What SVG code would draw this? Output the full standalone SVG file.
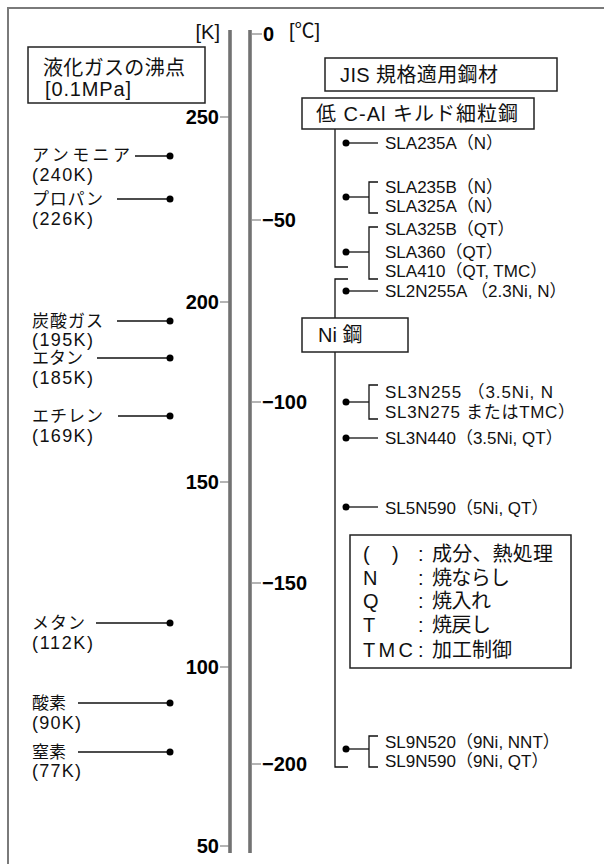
<svg xmlns="http://www.w3.org/2000/svg" width="604" height="864" viewBox="0 0 604 864">
<style>
.frame{stroke:#7a7a7a;stroke-width:2;fill:none}
.bar{stroke:#727272;stroke-width:3.6}
.tick{stroke:#777;stroke-width:1.1}
.ln{stroke:#111;stroke-width:1.3;fill:none}
.box{fill:#fff;stroke:#222;stroke-width:1.5}
.t{font-family:"Liberation Sans","Noto Sans CJK JP",sans-serif;font-size:17px;fill:#111}
.v{font-family:"Liberation Sans","Noto Sans CJK JP",sans-serif;font-size:18px;fill:#111}
.lg{font-family:"Liberation Sans","Noto Sans CJK JP",sans-serif;font-size:20px;fill:#111}
.hd{font-family:"Liberation Sans","Noto Sans CJK JP",sans-serif;font-size:20px;fill:#111}
.ax{font-family:"Liberation Sans",sans-serif;font-size:20px;font-weight:bold;fill:#000}
.dot{fill:#000}
</style>
<rect width="604" height="864" fill="#fff"/>
<path class="frame" d="M8,864 V8 H604"/>

<g id="axis-k">
<line class="bar" x1="230" y1="30" x2="230" y2="853"/>
<text class="hd" x="220" y="39" text-anchor="end">[K]</text>
<line class="tick" x1="220" y1="117" x2="229" y2="117"/>
<text class="ax" x="219" y="124" text-anchor="end">250</text>
<line class="tick" x1="220" y1="302" x2="229" y2="302"/>
<text class="ax" x="219" y="309" text-anchor="end">200</text>
<line class="tick" x1="220" y1="482" x2="229" y2="482"/>
<text class="ax" x="219" y="489" text-anchor="end">150</text>
<line class="tick" x1="220" y1="667" x2="229" y2="667"/>
<text class="ax" x="219" y="674" text-anchor="end">100</text>
<line class="tick" x1="220" y1="846" x2="229" y2="846"/>
<text class="ax" x="219" y="853" text-anchor="end">50</text>
</g>

<g id="axis-c">
<line class="bar" x1="250" y1="30" x2="250" y2="853"/>
<text class="hd" x="289" y="38">[℃]</text>
<line class="tick" x1="252" y1="34" x2="262" y2="34"/>
<text class="ax" x="263" y="41">0</text>
<line class="tick" x1="252" y1="220" x2="261" y2="220"/>
<text class="ax" x="262" y="227">−50</text>
<line class="tick" x1="252" y1="402" x2="261" y2="402"/>
<text class="ax" x="262" y="409">−100</text>
<line class="tick" x1="252" y1="583" x2="261" y2="583"/>
<text class="ax" x="262" y="590">−150</text>
<line class="tick" x1="252" y1="764" x2="261" y2="764"/>
<text class="ax" x="262" y="771">−200</text>
</g>

<g id="title-gas">
<rect class="box" x="28" y="47" width="177" height="56"/>
<text class="hd" x="43" y="75" textLength="142" lengthAdjust="spacing">液化ガスの沸点</text>
<text class="hd" x="45" y="96" textLength="86" lengthAdjust="spacing">[0.1MPa]</text>
</g>

<g id="gas-ammonia">
<text class="t" x="32" y="161" textLength="98" lengthAdjust="spacing">アンモニア</text>
<text class="v" x="32" y="181" textLength="61" lengthAdjust="spacing">(240K)</text>
</g>
<g id="gas-propane">
<text class="t" x="32" y="204.5" textLength="71" lengthAdjust="spacing">プロパン</text>
<text class="v" x="32" y="225" textLength="61" lengthAdjust="spacing">(226K)</text>
</g>
<g id="gas-co2">
<text class="t" x="32" y="326.5" textLength="71" lengthAdjust="spacing">炭酸ガス</text>
<text class="v" x="32" y="346" textLength="61" lengthAdjust="spacing">(195K)</text>
</g>
<g id="gas-ethane">
<text class="t" x="32" y="363.5" textLength="51" lengthAdjust="spacing">エタン</text>
<text class="v" x="32" y="384" textLength="61" lengthAdjust="spacing">(185K)</text>
</g>
<g id="gas-ethylene">
<text class="t" x="32" y="421.5" textLength="71" lengthAdjust="spacing">エチレン</text>
<text class="v" x="32" y="442" textLength="61" lengthAdjust="spacing">(169K)</text>
</g>
<g id="gas-methane">
<text class="t" x="32" y="628.5" textLength="53" lengthAdjust="spacing">メタン</text>
<text class="v" x="32" y="649" textLength="61" lengthAdjust="spacing">(112K)</text>
</g>
<g id="gas-oxygen">
<text class="t" x="32" y="708.5" textLength="34" lengthAdjust="spacing">酸素</text>
<text class="v" x="32" y="729" textLength="49" lengthAdjust="spacing">(90K)</text>
</g>
<g id="gas-nitrogen">
<text class="t" x="32" y="757.5" textLength="34" lengthAdjust="spacing">窒素</text>
<text class="v" x="32" y="777" textLength="49" lengthAdjust="spacing">(77K)</text>
</g>

<g id="connectors">
<line class="ln" x1="135" y1="156" x2="170" y2="156"/><circle class="dot" cx="170" cy="156" r="3.5"/>
<line class="ln" x1="117" y1="199" x2="170" y2="199"/><circle class="dot" cx="170" cy="199" r="3.5"/>
<line class="ln" x1="117" y1="321" x2="170" y2="321"/><circle class="dot" cx="170" cy="321" r="3.5"/>
<line class="ln" x1="97" y1="358" x2="170" y2="358"/><circle class="dot" cx="170" cy="358" r="3.5"/>
<line class="ln" x1="118" y1="416" x2="170" y2="416"/><circle class="dot" cx="170" cy="416" r="3.5"/>
<line class="ln" x1="96" y1="623" x2="170" y2="623"/><circle class="dot" cx="170" cy="623" r="3.5"/>
<line class="ln" x1="78" y1="703" x2="170" y2="703"/><circle class="dot" cx="170" cy="703" r="3.5"/>
<line class="ln" x1="78" y1="752" x2="170" y2="752"/><circle class="dot" cx="170" cy="752" r="3.5"/>

<path class="ln" d="M335,129 V267 H348"/>
<path class="ln" d="M348,279 H335 V767 H348"/>

<line class="ln" x1="346" y1="143" x2="378" y2="143"/><circle class="dot" cx="346" cy="143" r="3.5"/>
<line class="ln" x1="346" y1="197" x2="369" y2="197"/><circle class="dot" cx="346" cy="197" r="3.5"/>
<path class="ln" d="M378,182 H369 V213 H378"/>
<line class="ln" x1="346" y1="252" x2="369" y2="252"/><circle class="dot" cx="346" cy="252" r="3.5"/>
<path class="ln" d="M378,227 H369 V279 H378"/>
<line class="ln" x1="346" y1="291" x2="378" y2="291"/><circle class="dot" cx="346" cy="291" r="3.5"/>
<line class="ln" x1="346" y1="402" x2="369" y2="402"/><circle class="dot" cx="346" cy="402" r="3.5"/>
<path class="ln" d="M378,385 H369 V419 H378"/>
<line class="ln" x1="346" y1="438" x2="378" y2="438"/><circle class="dot" cx="346" cy="438" r="3.5"/>
<line class="ln" x1="346" y1="507" x2="378" y2="507"/><circle class="dot" cx="346" cy="507" r="3.5"/>
<line class="ln" x1="346" y1="749" x2="369" y2="749"/><circle class="dot" cx="346" cy="749" r="3.5"/>
<path class="ln" d="M378,736 H369 V767 H378"/>
</g>

<g id="title-jis">
<rect class="box" x="325" y="58" width="232" height="33"/>
<text class="hd" x="340" y="82" textLength="158" lengthAdjust="spacing">JIS 規格適用鋼材</text>
</g>
<g id="group-lowc">
<rect class="box" x="302" y="98" width="232" height="31"/>
<text class="hd" x="316" y="121" textLength="202" lengthAdjust="spacing">低 C-Al キルド細粒鋼</text>
</g>
<g id="group-ni">
<rect class="box" x="302" y="318" width="106" height="34"/>
<text class="hd" x="318" y="342">Ni 鋼</text>
</g>

<g id="steel-sla235a"><text class="t" x="385" y="149">SLA235A（N）</text></g>
<g id="steel-sla235b"><text class="t" x="385" y="193">SLA235B（N）</text></g>
<g id="steel-sla325a"><text class="t" x="385" y="212">SLA325A（N）</text></g>
<g id="steel-sla325b"><text class="t" x="385" y="235">SLA325B（QT）</text></g>
<g id="steel-sla360"><text class="t" x="385" y="258">SLA360（QT）</text></g>
<g id="steel-sla410"><text class="t" x="385" y="277">SLA410（QT, TMC）</text></g>
<g id="steel-sl2n255a"><text class="t" x="385" y="297">SL2N255A （2.3Ni, N）</text></g>
<g id="steel-sl3n255"><text class="t" x="385" y="398" textLength="168" lengthAdjust="spacing">SL3N255 （3.5Ni, N</text></g>
<g id="steel-sl3n275"><text class="t" x="385" y="418" textLength="190" lengthAdjust="spacing">SL3N275 またはTMC）</text></g>
<g id="steel-sl3n440"><text class="t" x="385" y="444">SL3N440（3.5Ni, QT）</text></g>
<g id="steel-sl5n590"><text class="t" x="385" y="514">SL5N590（5Ni, QT）</text></g>
<g id="steel-sl9n520"><text class="t" x="385" y="748">SL9N520（9Ni, NNT）</text></g>
<g id="steel-sl9n590"><text class="t" x="385" y="767">SL9N590（9Ni, QT）</text></g>

<g id="legend">
<rect class="box" x="350" y="535" width="221" height="133"/>
<text class="lg" x="363" y="561">(</text>
<text class="lg" x="392" y="561">)</text>
<text class="lg" x="418" y="561">:</text>
<text class="lg" x="432" y="561" textLength="121" lengthAdjust="spacing">成分、熱処理</text>
<text class="lg" x="363" y="585">N</text>
<text class="lg" x="418" y="585">:</text>
<text class="lg" x="432" y="585" textLength="78" lengthAdjust="spacing">焼ならし</text>
<text class="lg" x="363" y="608">Q</text>
<text class="lg" x="418" y="608">:</text>
<text class="lg" x="432" y="608" textLength="59" lengthAdjust="spacing">焼入れ</text>
<text class="lg" x="363" y="632">T</text>
<text class="lg" x="418" y="632">:</text>
<text class="lg" x="432" y="632" textLength="59" lengthAdjust="spacing">焼戻し</text>
<text class="lg" x="363" y="657" textLength="50" lengthAdjust="spacing">TMC</text>
<text class="lg" x="418" y="657">:</text>
<text class="lg" x="432" y="657" textLength="80" lengthAdjust="spacing">加工制御</text>
</g>
</svg>
